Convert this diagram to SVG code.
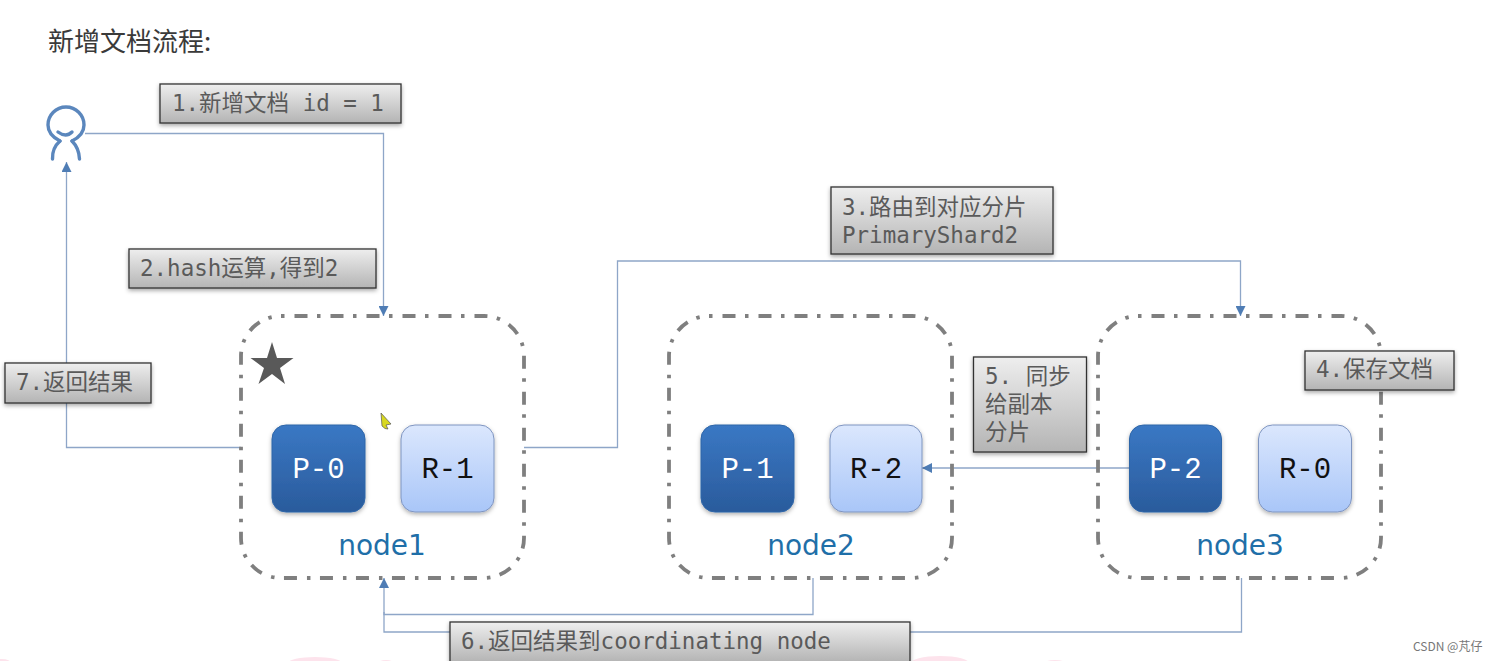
<svg xmlns="http://www.w3.org/2000/svg" width="1496" height="661" viewBox="0 0 1496 661">
<style>
.cn{fill:none;stroke:#8ea6c8;stroke-width:1.3}
.grp{fill:none;stroke:#7f7f7f;stroke-width:3.8;stroke-dasharray:13 9.500 3.500 10;stroke-dashoffset:22.500}
.lb{fill:url(#gl);stroke:#333;stroke-width:1.3;filter:url(#sd)}
.lt{font-family:"DejaVu Sans Mono","Noto Sans CJK SC",monospace;font-size:22.500px;fill:#5a5a5a}
.sh{stroke-width:1;filter:url(#sd2)}
.p{fill:url(#gp);stroke:#2f66a8}
.r{fill:url(#gr);stroke:#7f95c0}
.st{font-family:"Liberation Mono",monospace;font-size:29px;text-anchor:middle}
.nm{font-family:"DejaVu Sans",sans-serif;font-size:28px;fill:#1f6fa8;text-anchor:middle}
.pk{fill:#fde3ec}
</style>
<defs>
<linearGradient id="gl" x1="0" y1="0" x2="0" y2="1"><stop offset="0" stop-color="#eeeeee"/><stop offset="1" stop-color="#b4b4b4"/></linearGradient>
<linearGradient id="gp" x1="0" y1="0" x2="0" y2="1"><stop offset="0" stop-color="#3a78c4"/><stop offset="1" stop-color="#2a5b9c"/></linearGradient>
<linearGradient id="gr" x1="0" y1="0" x2="0" y2="1"><stop offset="0" stop-color="#dbe7fd"/><stop offset="1" stop-color="#a9c6f8"/></linearGradient>
<filter id="sd" x="-10%" y="-20%" width="120%" height="150%"><feDropShadow dx="0" dy="2" stdDeviation="2" flood-color="#000" flood-opacity="0.35"/></filter>
<filter id="sd2" x="-10%" y="-10%" width="120%" height="125%"><feDropShadow dx="0" dy="2" stdDeviation="2" flood-color="#000" flood-opacity="0.3"/></filter>
<marker id="ah" viewBox="0 0 10 10" refX="10" refY="5" markerWidth="10" markerHeight="10" markerUnits="userSpaceOnUse" orient="auto"><path d="M0 0L10 5L0 10Z" fill="#4f7db5"/></marker>
</defs>
<rect width="1496" height="661" fill="#fff"/>
<g id="bottom-tint">
<ellipse class="pk" cx="2" cy="663" rx="9" ry="4"/>
<ellipse class="pk" cx="315" cy="663" rx="27" ry="6"/>
<ellipse class="pk" cx="386" cy="663" rx="8" ry="3"/>
<ellipse class="pk" cx="940" cy="664" rx="30" ry="8"/>
<ellipse class="pk" cx="1055" cy="663" rx="11" ry="3"/>
</g>
<text id="title" x="48" y="51" font-family="'Noto Sans CJK SC',sans-serif" font-size="26" fill="#3a3a3a">新增文档流程:</text>
<g id="connectors">
<path class="cn" marker-end="url(#ah)" d="M85 133.500H383.500V316"/>
<path class="cn" marker-end="url(#ah)" d="M241 447.500H66.500V162"/>
<path class="cn" marker-end="url(#ah)" d="M524 447.500H617.500V261H1240.500V316"/>
<path class="cn" marker-end="url(#ah)" d="M1129 468H922"/>
<path class="cn" marker-end="url(#ah)" d="M813 578V614.500H384V578"/>
<path class="cn" d="M1241.500 578V632H384V612"/>
</g>
<g id="user" fill="none" stroke="#5b87bd" stroke-width="3.400" stroke-linecap="round">
<path d="M60 141Q48 135 48 125A18 18 0 1 1 84 125Q84 135 72 141"/>
<path d="M58 132Q66 138 72 132"/>
<path d="M60 141Q52 148 52.500 159"/>
<path d="M72 141Q79 148 79.500 159"/>
</g>
<g id="node1">
<rect class="grp" x="241" y="316" width="283" height="262" rx="40"/>
<path fill="#595959" d="M272 342L277 358H293.500L280 368L285 384L272 374L258.500 384L264 368L250.500 358H267Z"/>
<path fill="#d8d820" stroke="#555" stroke-width=".7" d="M381 413L391 424L386 425L388 429L385 428.500L382 426Z"/>
<rect class="sh p" x="272" y="425" width="93" height="87" rx="14"/>
<text class="st" x="318.500" y="478" fill="#fff">P-0</text>
<rect class="sh r" x="401" y="425" width="93" height="87" rx="14"/>
<text class="st" x="447.500" y="478" fill="#111">R-1</text>
<text class="nm" x="382" y="555">node1</text>
</g>
<g id="node2">
<rect class="grp" x="669" y="316" width="283" height="262" rx="40"/>
<rect class="sh p" x="701" y="425" width="93" height="87" rx="14"/>
<text class="st" x="747.500" y="478" fill="#fff">P-1</text>
<rect class="sh r" x="830" y="425" width="92" height="87" rx="14"/>
<text class="st" x="876" y="478" fill="#111">R-2</text>
<text class="nm" x="811" y="555">node2</text>
</g>
<g id="node3">
<rect class="grp" x="1098" y="316" width="283" height="262" rx="40"/>
<rect class="sh p" x="1129.500" y="425" width="92" height="87" rx="14"/>
<text class="st" x="1175.500" y="478" fill="#fff">P-2</text>
<rect class="sh r" x="1258.500" y="425" width="93" height="87" rx="14"/>
<text class="st" x="1305" y="478" fill="#111">R-0</text>
<text class="nm" x="1240" y="555">node3</text>
</g>
<g id="label1"><rect class="lb" x="160" y="84" width="241" height="39"/><text class="lt" x="172" y="111" xml:space="preserve">1.新增文档 id = 1</text></g>
<g id="label2"><rect class="lb" x="129" y="249" width="247" height="39"/><text class="lt" x="140" y="276">2.hash运算,得到2</text></g>
<g id="label3"><rect class="lb" x="831" y="187" width="222" height="67"/><text class="lt" x="842" y="215">3.路由到对应分片</text><text class="lt" x="842" y="243">PrimaryShard2</text></g>
<g id="label4"><rect class="lb" x="1305" y="351" width="149" height="39"/><text class="lt" x="1316" y="377">4.保存文档</text></g>
<g id="label5"><rect class="lb" x="973.500" y="357" width="113" height="95"/><text class="lt" x="985" y="384" xml:space="preserve">5. 同步</text><text class="lt" x="985" y="412">给副本</text><text class="lt" x="985" y="440">分片</text></g>
<g id="label6"><rect class="lb" x="450" y="622" width="460" height="40"/><text class="lt" x="461" y="649">6.返回结果到coordinating node</text></g>
<g id="label7"><rect class="lb" x="5" y="363" width="146" height="40"/><text class="lt" x="16" y="390">7.返回结果</text></g>
<text id="watermark" x="1413" y="651" font-family="'Noto Sans CJK SC',sans-serif" font-size="12" fill="#777">CSDN @芃仔</text>
</svg>
